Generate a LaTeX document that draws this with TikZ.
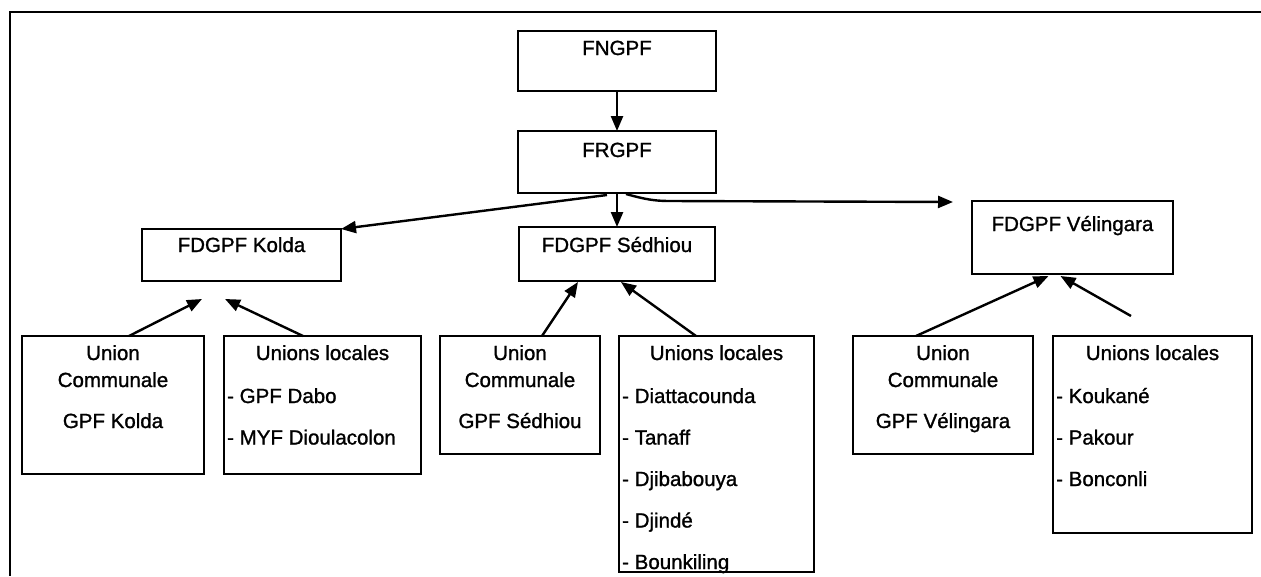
\documentclass[tikz,border=0pt]{standalone}
\usepackage{fontspec}
\setmainfont[FakeBold=1.2]{Liberation Sans}
\usetikzlibrary{arrows.meta,calc}
\begin{document}
\begin{tikzpicture}[x=1pt,y=-1pt,
  box/.style={draw, line width=2.6pt, rectangle, inner sep=0pt, outer sep=0pt, anchor=north west},
  lbl/.style={inner sep=0pt, font=\fontsize{20.5}{24}\selectfont, anchor=base},
  item/.style={lbl, anchor=base west},
  arr/.style={line width=2.4pt, -{Triangle[length=15pt,width=12pt]}}]
\useasboundingbox (0,0) rectangle (1261,576);
\draw[line width=2.8pt] (1261,12) -- (10,12) -- (10,576);

% texts
\node[lbl] (t1) at (617,55) {FNGPF};
\node[lbl] (t2) at (617,157) {FRGPF};
\node[lbl] (t3) at (241.5,252) {FDGPF Kolda};
\node[lbl] (t4) at (617,252) {FDGPF Sédhiou};
\node[lbl] (t5) at (1072.5,231) {FDGPF Vélingara};

\node[lbl] (uck1) at (113,360) {Union};
\node[lbl] (uck2) at (113,387) {Communale};
\node[lbl] (uck3) at (113,428) {GPF Kolda};

\node[lbl] (ulk0) at (322.5,360) {Unions locales};
\node[item] (ulk1) at (227,403) {- GPF Dabo};
\node[item] (ulk2) at (227,444.5) {- MYF Dioulacolon};

\node[lbl] (ucs1) at (520,360) {Union};
\node[lbl] (ucs2) at (520,387) {Communale};
\node[lbl] (ucs3) at (520,428) {GPF Sédhiou};

\node[lbl] (uls0) at (716.5,360) {Unions locales};
\node[item] (uls1) at (622,403) {- Diattacounda};
\node[item] (uls2) at (622,444.5) {- Tanaff};
\node[item] (uls3) at (622,486) {- Djibabouya};
\node[item] (uls4) at (622,527.5) {- Djindé};
\node[item] (uls5) at (622,569) {- Bounkiling};

\node[lbl] (ucv1) at (943,360) {Union};
\node[lbl] (ucv2) at (943,387) {Communale};
\node[lbl] (ucv3) at (943,428) {GPF Vélingara};

\node[lbl] (ulv0) at (1152.5,360) {Unions locales};
\node[item] (ulv1) at (1056,403) {- Koukané};
\node[item] (ulv2) at (1056,444.5) {- Pakour};
\node[item] (ulv3) at (1056,486) {- Bonconli};

% boxes
\node[box, minimum width=198pt, minimum height=60pt] (fngpf) at (518,31) {};
\node[box, minimum width=198pt, minimum height=62pt] (frgpf) at (518,131) {};
\node[box, minimum width=199pt, minimum height=52pt] (kolda) at (142,229) {};
\node[box, minimum width=196pt, minimum height=54pt] (sedhiou) at (519,227) {};
\node[box, minimum width=201pt, minimum height=73pt] (velin) at (972,201) {};
\node[box, minimum width=182pt, minimum height=138pt] (uck) at (22,336) {};
\node[box, minimum width=197pt, minimum height=138pt] (ulk) at (224,336) {};
\node[box, minimum width=160pt, minimum height=118pt] (ucs) at (440,336) {};
\node[box, minimum width=195pt, minimum height=236pt] (uls) at (619,336) {};
\node[box, minimum width=180pt, minimum height=118pt] (ucv) at (853,336) {};
\node[box, minimum width=199pt, minimum height=197pt] (ulv) at (1053,336) {};

% coordinates
\coordinate (kstart) at ($(frgpf.south)+(-10,2)$);
\coordinate (vstart) at ($(frgpf.south)+(9,1)$);
\coordinate (vmid) at ($(frgpf.south)+(52,8)$);
\coordinate (vend) at ($(velin.north west)+(-19,1)$);
\coordinate (kt1) at ($(kolda.south)+(-39.5,18)$);
\coordinate (kt2) at ($(kolda.south)+(-16.5,18)$);
\coordinate (vfree) at ($(ulv.north)+(-21.5,-20)$);

% connectors
\draw[arr] (fngpf.south) -- (frgpf.north);
\draw[arr] (frgpf.south) -- (sedhiou.north);
\draw[arr] (kstart) -- (kolda.north east);
\draw[arr] (vstart) .. controls ($(vstart)+(18,5)$) and ($(vmid)+(-15,0)$) .. (vmid) -- (vend);
\draw[arr] ($(uck.north)+(16,0)$) -- (kt1);
\draw[arr] ($(ulk.north)+(-19.5,0)$) -- (kt2);
\draw[arr] ($(ucs.north)+(22,0)$) -- ($(sedhiou.south)+(-39,1)$);
\draw[arr] ($(uls.north)+(-20.5,0)$) -- ($(sedhiou.south)+(4,1)$);
\draw[arr] ($(ucv.north)+(-27,0)$) -- ($(velin.south)+(-24,2)$);
\draw[arr] (vfree) -- ($(velin.south)+(-12,2)$);
\end{tikzpicture}
\end{document}
